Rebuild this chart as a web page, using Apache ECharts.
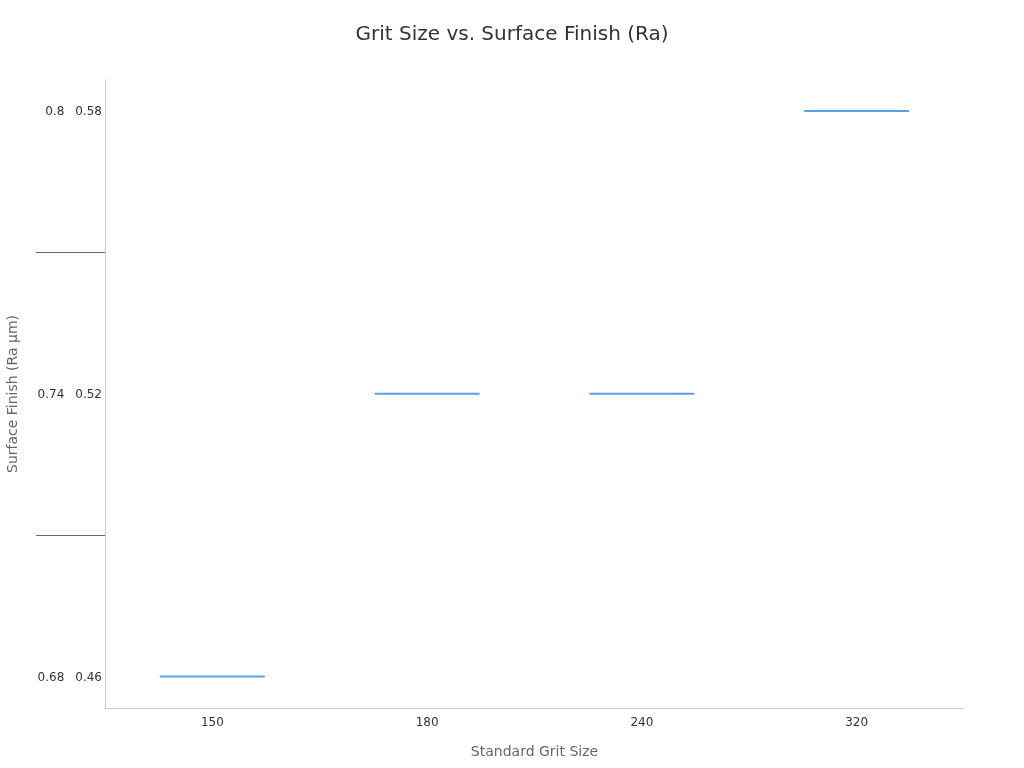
<!DOCTYPE html>
<html>
<head>
<meta charset="utf-8">
<script src="https://cdn.jsdelivr.net/npm/echarts@6/dist/echarts.min.js"></script>
<style>html,body{margin:0;padding:0;background:#fff}#c{width:1024px;height:768px}</style>
</head>
<body>
<div id="c"></div>
<script>
const grits = ['150', '180', '240', '320'];
const raValues = [0.46, 0.52, 0.52, 0.58];
const labelValues = [0.46, 0.52, 0.58];
const labelPairs = ['0.68', '0.74', '0.8'];
const dividerValues = [0.49, 0.55];

const chart = echarts.init(document.getElementById('c'));
chart.setOption({
  animation: false,
  textStyle: { fontFamily: 'DejaVu Sans' },
  title: {
    text: 'Grit Size vs. Surface Finish (Ra)',
    left: 'center', top: 20,
    textStyle: { fontSize: 20, fontWeight: 'normal', color: '#333', fontFamily: 'DejaVu Sans' }
  },
  grid: { left: 105, right: 60, top: 80, bottom: 60, containLabel: false, outerBoundsMode: 'none' },
  xAxis: {
    type: 'category',
    data: grits,
    name: 'Standard Grit Size',
    nameLocation: 'middle',
    nameGap: 37,
    nameTextStyle: { color: '#666', fontSize: 14 },
    axisLine: { lineStyle: { color: '#ccc' } },
    axisTick: { alignWithLabel: true, lineStyle: { color: '#999' }, length: 4 },
    axisLabel: { color: '#333', fontSize: 12, margin: 9 }
  },
  yAxis: {
    type: 'value',
    min: 0.4533,
    max: 0.5866,
    name: 'Surface Finish (Ra µm)',
    nameLocation: 'middle',
    nameGap: 85,
    nameTextStyle: { color: '#666', fontSize: 14 },
    axisLine: { show: true, lineStyle: { color: '#ccc' } },
    splitLine: { show: false },
    axisTick: { show: true, customValues: dividerValues, length: 69, lineStyle: { color: '#666' } },
    axisLabel: {
      customValues: labelValues,
      color: '#333', fontSize: 12, margin: 3,
      formatter: function (v) {
        let i = labelValues.findIndex(x => Math.abs(x - v) < 1e-6);
        return i >= 0 ? '{a|' + labelPairs[i] + '}{b|' + labelValues[i].toFixed(2) + '}' : '';
      },
      rich: {
        a: { color: '#333', fontSize: 12, padding: [2, 0, 0, 0] },
        b: { color: '#333', fontSize: 12, padding: [2, 0, 0, 11] }
      }
    }
  },
  series: [{
    type: 'scatter',
    data: raValues,
    symbol: 'rect',
    symbolSize: [105, 2],
    itemStyle: { color: '#2f8be0' }
  }]
});
</script>
</body>
</html>
